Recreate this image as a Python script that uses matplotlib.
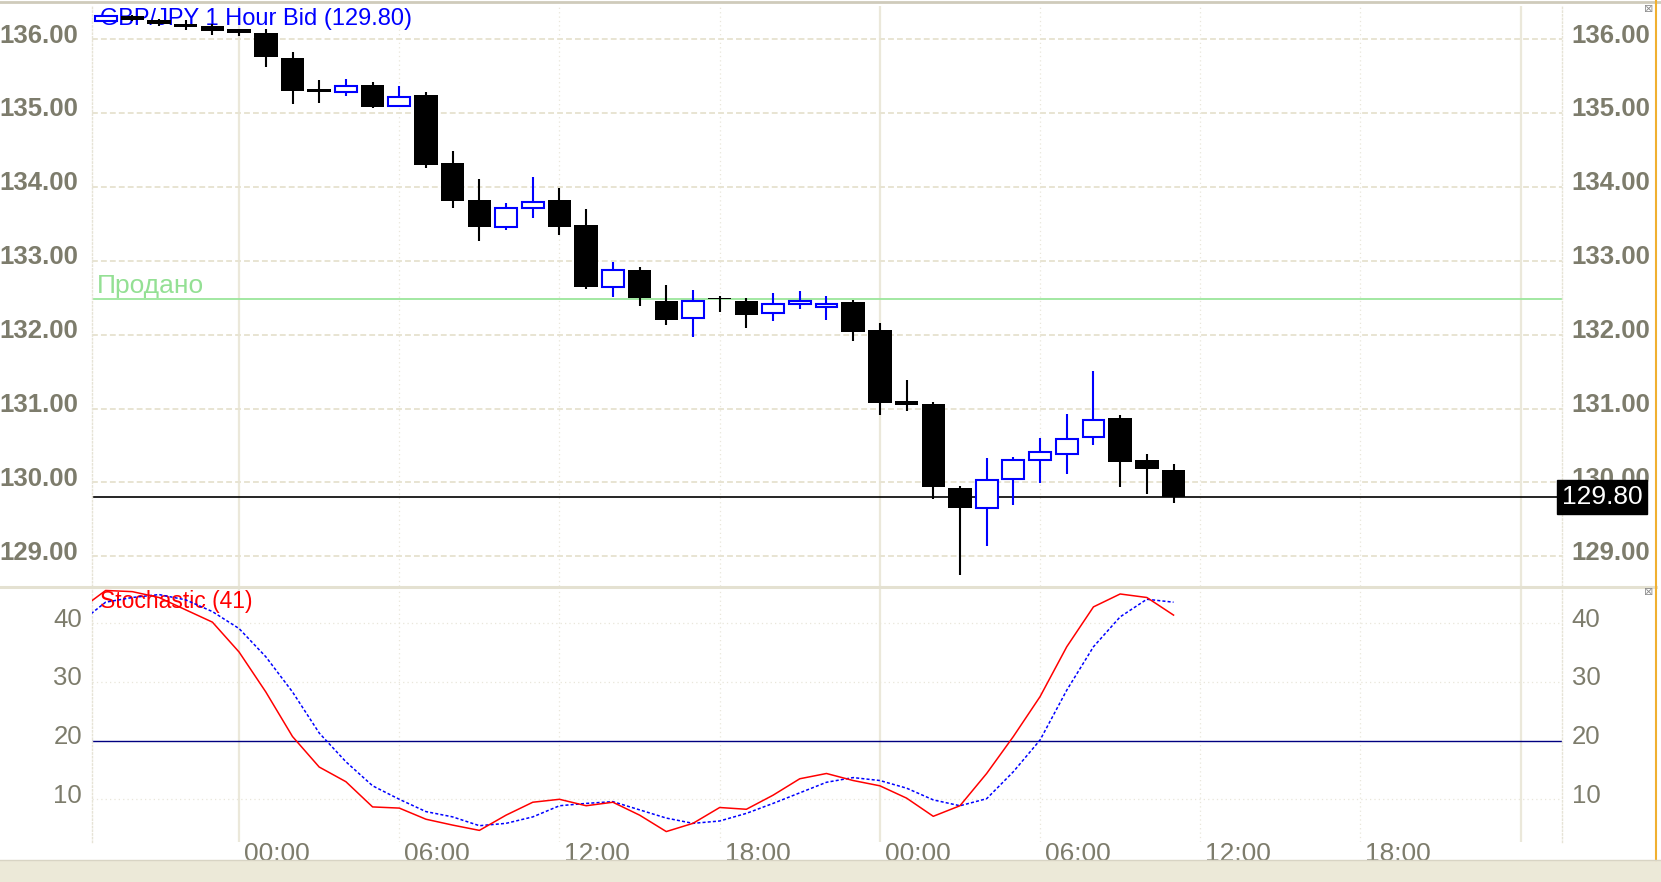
import numpy as np
import matplotlib.pyplot as plt
from matplotlib.transforms import ScaledTranslation
from matplotlib.lines import Line2D
from matplotlib.patches import Rectangle

plt.rcParams['font.family'] = ['Liberation Sans', 'DejaVu Sans']

# hourly candles, hour 0 = midnight of the second day
hours = list(range(-5, 36))
opens = [136.25, 136.31, 136.26, 136.21, 136.17, 136.13, 136.08, 135.74, 135.33, 135.28,
         135.38, 135.10, 135.24, 134.32, 133.82, 133.45, 133.72, 133.82, 133.48, 132.65,
         132.87, 132.45, 132.22, 132.49, 132.45, 132.29, 132.41, 132.38, 132.44, 132.06,
         131.10, 131.06, 129.92, 129.65, 130.05, 130.30, 130.39, 130.61, 130.87, 130.30,
         130.17]
highs = [136.33, 136.33, 136.27, 136.26, 136.21, 136.14, 136.13, 135.82, 135.45, 135.46,
         135.42, 135.37, 135.28, 134.48, 134.11, 133.78, 134.13, 133.99, 133.70, 132.98,
         132.91, 132.67, 132.60, 132.52, 132.50, 132.56, 132.59, 132.52, 132.47, 132.16,
         131.39, 131.09, 129.95, 130.33, 130.34, 130.60, 130.93, 131.51, 130.91, 130.39,
         130.25]
lows = [136.24, 136.24, 136.17, 136.12, 136.06, 136.04, 135.62, 135.12, 135.14, 135.23,
        135.07, 135.08, 134.25, 133.71, 133.27, 133.41, 133.58, 133.35, 132.62, 132.51,
        132.39, 132.13, 131.97, 132.30, 132.09, 132.18, 132.34, 132.20, 131.91, 130.91,
        130.97, 129.78, 128.75, 129.14, 129.70, 129.99, 130.12, 130.51, 129.94, 129.84,
        129.72]
closes = [136.31, 136.26, 136.21, 136.16, 136.11, 136.08, 135.76, 135.29, 135.28, 135.36,
          135.08, 135.21, 134.29, 133.81, 133.46, 133.71, 133.80, 133.46, 132.64, 132.88,
          132.49, 132.20, 132.46, 132.48, 132.27, 132.42, 132.45, 132.42, 132.04, 131.07,
          131.05, 129.94, 129.66, 130.03, 130.30, 130.41, 130.59, 130.85, 130.27, 130.18,
          129.80]

stoch_hours = list(range(-6, 36))
stoch_k = [42.2, 45.6, 45.4, 44.4, 42.3, 40.2, 35.1, 28.3, 20.7, 15.5, 13.0, 8.7, 8.5, 6.6,
           5.6, 4.7, 7.3, 9.5, 10.0, 8.9, 9.5, 7.3, 4.5, 5.9, 8.6, 8.3, 10.7, 13.5, 14.4,
           13.2, 12.3, 10.2, 7.1, 8.9, 14.4, 20.7, 27.5, 36.0, 42.8, 45.0, 44.4, 41.4]
stoch_d = [40.0, 43.6, 44.4, 44.9, 44.0, 42.0, 39.1, 34.3, 28.3, 21.3, 16.4, 12.3, 10.0, 7.9,
           7.0, 5.5, 5.9, 7.0, 8.9, 9.3, 9.6, 8.2, 6.8, 5.9, 6.3, 7.6, 9.3, 11.1, 12.9,
           13.7, 13.2, 11.9, 9.9, 8.9, 10.1, 14.7, 20.1, 28.6, 36.0, 41.1, 44.1, 43.6]

price_ticks = [129, 130, 131, 132, 133, 134, 135, 136]
stoch_ticks = [10, 20, 30, 40]
time_ticks = [0, 6, 12, 18, 24, 30, 36, 42]
time_labels = ['00:00', '06:00', '12:00', '18:00', '00:00', '06:00', '12:00', '18:00']
grid_hours = [0, 6, 12, 18, 24, 30, 36, 42, 48]
day_hours = [0, 24, 48]
sold_level = 132.48
oversold = 20

title = 'GBP/JPY 1 Hour Bid (129.80)'
sold_label = 'Продано'
stoch_label = 'Stochastic (41)'

LABEL_GREY = '#7d7c6c'
GRID = '#e8e4d2'

W, H = 1661, 882


def fbox(x0, y0, x1, y1):
    return [x0 / W, 1 - y1 / H, (x1 - x0) / W, (y1 - y0) / H]


fig = plt.figure(figsize=(W / 100, H / 100), dpi=100, facecolor='white')
ax_p = fig.add_axes(fbox(92, 6, 1562, 586))
ax_s = fig.add_axes(fbox(92, 588, 1562, 842), sharex=ax_p)

x = np.array(hours)
o = np.array(opens)
h = np.array(highs)
l = np.array(lows)
c = np.array(closes)
up = c > o

for ax in (ax_p, ax_s):
    for sp in ax.spines.values():
        sp.set_visible(False)
    for side in ('left', 'right'):
        ax.spines[side].set(visible=True, linestyle=':', color='#e6e3d6', linewidth=1)
    for gh in grid_hours:
        if gh in day_hours:
            ax.axvline(gh, color='#ebe8da', lw=1.6, zorder=0)
        else:
            ax.axvline(gh, color='#e9e6da', lw=0.9, ls=(0, (1, 2.5)), zorder=0)
    ax.set_facecolor('white')

# price panel
for pt in price_ticks:
    ax_p.axhline(pt, color=GRID, lw=1.4, ls=(0, (3, 1.6)), zorder=0)

ax_p.vlines(x[~up], l[~up], h[~up], color='black', lw=1.5, zorder=3)
ax_p.bar(x[~up], (o - c)[~up], bottom=c[~up], width=0.88, color='black', zorder=4)
ax_p.vlines(x[up], l[up], h[up], color='#0000ff', lw=1.5, zorder=3)
ax_p.bar(x[up], (c - o)[up], bottom=o[up], width=0.82, facecolor='white',
         edgecolor='#0000ff', linewidth=1.5, zorder=4)

ax_p.axhline(sold_level, color='#9be69b', lw=1.3, zorder=2)
ax_p.axhline(closes[-1], color='black', lw=1.2, zorder=2)
ax_p.text(0.003, sold_level + 0.02, sold_label, transform=ax_p.get_yaxis_transform(),
          color='#94e094', fontsize=19, va='bottom', ha='left', zorder=1)
ax_p.text(0.0054, 0.978, title, transform=ax_p.transAxes, color='#0000ff', fontsize=17,
          va='center', ha='left', zorder=1)
ax_p.text(1.0, closes[-1], '129.80', transform=ax_p.get_yaxis_transform(), color='white',
          fontsize=19, va='center', ha='left', zorder=10, clip_on=False,
          bbox=dict(boxstyle='square,pad=0.18', fc='black', ec='black'))

ax_p.set_ylim(128.598, 136.447)
ax_p.set_yticks(price_ticks)
ax_p.set_yticklabels(['%.2f' % v for v in price_ticks])
ax_p.tick_params(axis='y', left=False, right=False, labelleft=True, labelright=True,
                 labelsize=18.5, labelcolor=LABEL_GREY, pad=3.6)
ax_p.tick_params(axis='x', bottom=False, labelbottom=False)

# stochastic panel
for st in stoch_ticks:
    if st != oversold:
        ax_s.axhline(st, color='#e9e6da', lw=0.9, ls=(0, (1, 2.5)), zorder=0)
ax_s.axhline(oversold, color='#000080', lw=1.0, zorder=2)
ax_s.plot(stoch_hours, stoch_d, color='#0000ff', lw=1.1, ls=(0, (2, 1.4)), zorder=3)
ax_s.plot(stoch_hours, stoch_k, color='#ff0000', lw=1.1, zorder=4)
ax_s.text(0.0054, 0.945, stoch_label, transform=ax_s.transAxes, color='#ff0000',
          fontsize=16.5, va='center', ha='left', zorder=1)

ax_s.set_ylim(2.72, 46.02)
ax_s.set_yticks(stoch_ticks)
ax_s.tick_params(axis='y', left=False, right=False, labelleft=True, labelright=True,
                 labelsize=18.5, labelcolor=LABEL_GREY, pad=3.6)
ax_s.set_xticks(time_ticks)
ax_s.set_xticklabels(time_labels)
ax_s.tick_params(axis='x', bottom=False, length=0, labelsize=19, labelcolor=LABEL_GREY, pad=0)
ax_s.set_xlim(-5.51, 49.55)

shift_up = ScaledTranslation(0, 6 / 100, fig.dpi_scale_trans)
shift_left = ScaledTranslation(-4 / 100, 6 / 100, fig.dpi_scale_trans)
shift_right = ScaledTranslation(5 / 100, 0, fig.dpi_scale_trans)
for ax in (ax_p, ax_s):
    for t in ax.yaxis.get_major_ticks():
        t.label2.set_transform(t.label2.get_transform() + shift_up)
        if ax is ax_p:
            t.label1.set_transform(t.label1.get_transform() + shift_left)
            t.label1.set_fontweight('bold')
            t.label2.set_fontweight('bold')
        else:
            t.label1.set_transform(t.label1.get_transform() + shift_up)
for t in ax_s.xaxis.get_major_ticks():
    t.label1.set_horizontalalignment('left')
    t.label1.set_transform(t.label1.get_transform() + shift_right)

# window chrome: panel separator, borders, close boxes, scroll bar
fig.add_artist(Line2D([0, 1656 / W], [1 - 587 / H] * 2, color='#e4e1d1', lw=2.2))
fig.add_artist(Line2D([0, 1], [1 - 1.5 / H] * 2, color='#cfcbbb', lw=2))
fig.add_artist(Line2D([1656 / W] * 2, [22 / H, 1], color='#f0b030', lw=1.5))
for yb in (9, 592):
    fig.text(1649 / W, 1 - yb / H, '⊠', family='DejaVu Sans', fontsize=8,
             color='#8a8a8a', ha='center', va='center')
fig.add_artist(Rectangle((0, 0), 1, 22 / H, facecolor='#ece9d8', edgecolor='none',
                         zorder=-1))
fig.add_artist(Line2D([0, 1], [22 / H] * 2, color='#d8d4c4', lw=1))

fig.savefig('out.png', dpi=100, facecolor='white')
